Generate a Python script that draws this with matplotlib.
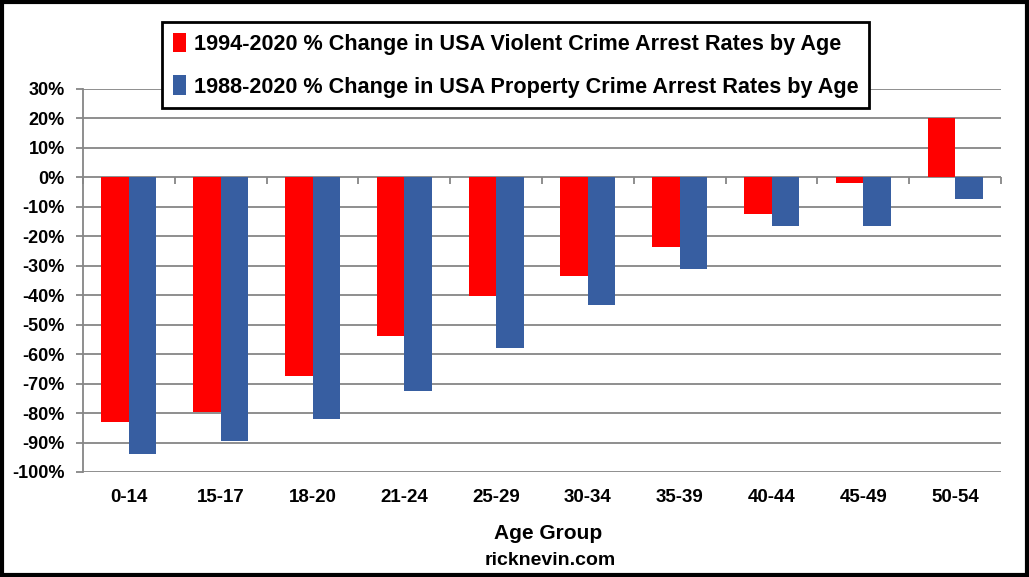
import numpy as np
import matplotlib
matplotlib.use('Agg')
from matplotlib import pyplot as plt
from matplotlib.ticker import FuncFormatter

age_groups = ['0-14', '15-17', '18-20', '21-24', '25-29',
              '30-34', '35-39', '40-44', '45-49', '50-54']
violent = [-83.0, -79.6, -67.4, -53.8, -40.3, -33.5, -23.7, -12.5, -1.9, 20.0]
property_ = [-94.0, -89.5, -82.1, -72.5, -57.9, -43.4, -31.0, -16.4, -16.4, -7.2]
labels = ['1994-2020 % Change in USA Violent Crime Arrest Rates by Age',
          '1988-2020 % Change in USA Property Crime Arrest Rates by Age']

plt.rcParams['font.family'] = ['Liberation Sans', 'DejaVu Sans']
plt.rcParams['font.weight'] = 'bold'

red = '#ff0000'
blue = '#375ea1'
grid = '#868686'

fig = plt.figure(figsize=(10.29, 5.77), dpi=100)
ax = fig.add_axes([0.0807, 0.182, 0.8921, 0.6638])

x = np.arange(len(age_groups))
w = 0.3
ax.bar(x - w / 2, violent, w, color=red, label=labels[0], zorder=3)
ax.bar(x + w / 2, property_, w, color=blue, label=labels[1], zorder=3)

ax.set_xlim(-0.5, len(age_groups) - 0.5)
ax.set_ylim(-100, 30)
ax.set_yticks(np.arange(-100, 31, 10))
ax.yaxis.set_major_formatter(FuncFormatter(lambda v, p: f'{v:.0f}%'))
ax.grid(axis='y', color=grid, linewidth=1.3, zorder=0)
ax.set_axisbelow(True)

for s in ['top', 'right', 'bottom']:
    ax.spines[s].set_visible(False)
ax.spines['left'].set_color(grid)
ax.spines['left'].set_linewidth(1.3)
ax.tick_params(axis='y', colors=grid, length=5, width=1.3, labelcolor='black',
               labelsize=13, pad=8)

ax.set_xticks(x)
ax.set_xticklabels(age_groups)
ax.tick_params(axis='x', length=0, labelsize=13.5, pad=12)
for t in ax.get_xticklabels() + ax.get_yticklabels():
    t.set_fontweight('bold')

# zero line with category tick marks
zero_frac = (0 - (-100)) / 130
sec = ax.secondary_xaxis(zero_frac)
sec.set_xticks(np.arange(-0.5, len(age_groups), 1.0))
sec.tick_params(axis='x', direction='out', length=5, width=1.3, colors=grid,
                labelbottom=False, labeltop=False, bottom=True, top=False)
sec.spines['bottom'].set_color(grid)
sec.spines['bottom'].set_linewidth(1.3)
sec.spines['top'].set_visible(False)

fig.text(0.533, 0.076, 'Age Group', ha='center', va='center',
         fontsize=15, fontweight='bold')
fig.text(0.535, 0.028, 'ricknevin.com', ha='center', va='center',
         fontsize=14, fontweight='bold')

leg = fig.legend(loc='upper center', bbox_to_anchor=(0.501, 0.962),
                 prop={'size': 15.6, 'weight': 'bold'}, fancybox=False,
                 framealpha=1, edgecolor='black', handlelength=0.6,
                 handleheight=1.0, handletextpad=0.35, labelspacing=0.95,
                 borderpad=0.5, borderaxespad=0)
leg.get_frame().set_linewidth(2)

fig.patches.append(plt.Rectangle((0.002, 0.003), 0.996, 0.994,
                                 transform=fig.transFigure, fill=False,
                                 edgecolor='black', linewidth=3))

fig.savefig('out.png', dpi=100)
